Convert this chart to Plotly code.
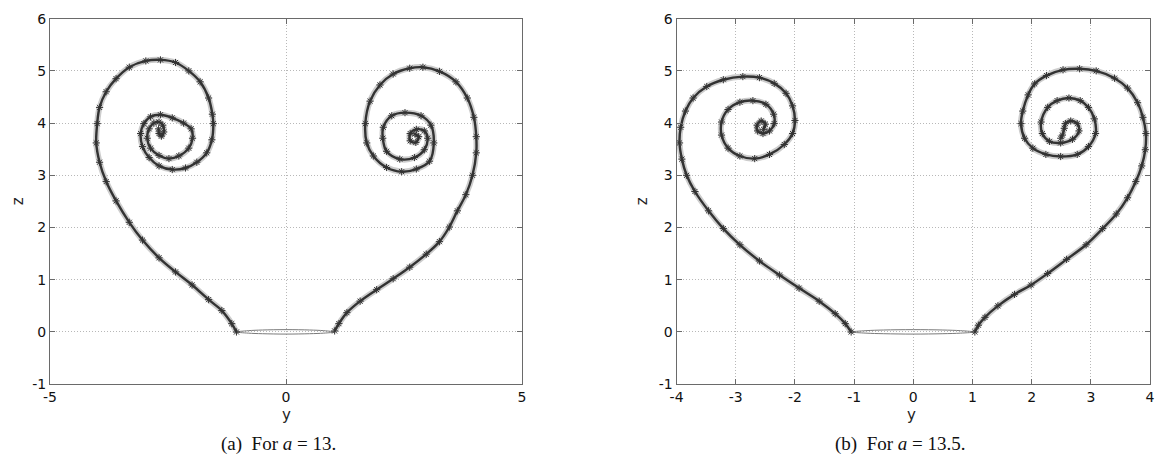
import plotly.graph_objects as go

# ---- a = 13 -------------------------------------------------------------
a13_left_y = [-1.05, -1.15, -1.36, -1.64, -1.99, -2.34, -2.69, -3.04, -3.32, -3.60,
              -3.81, -3.95, -4.02, -4.00, -3.95, -3.81, -3.60, -3.32, -2.97, -2.66,
              -2.34, -2.06, -1.82, -1.64, -1.56, -1.54, -1.57, -1.68, -1.89, -2.13,
              -2.41, -2.69, -2.90, -3.04, -3.08, -3.01, -2.87, -2.66, -2.41, -2.17,
              -2.01, -1.98, -2.06, -2.27, -2.48, -2.69, -2.87, -2.94, -2.90, -2.80,
              -2.69, -2.61, -2.59, -2.64, -2.69, -2.70]
a13_left_z = [0.00, 0.16, 0.41, 0.62, 0.90, 1.15, 1.42, 1.76, 2.10, 2.51,
              2.88, 3.25, 3.62, 3.99, 4.30, 4.60, 4.85, 5.07, 5.19, 5.21,
              5.16, 5.00, 4.79, 4.48, 4.17, 3.99, 3.68, 3.43, 3.25, 3.14,
              3.11, 3.18, 3.34, 3.55, 3.80, 3.99, 4.12, 4.16, 4.10, 4.00,
              3.89, 3.71, 3.52, 3.37, 3.32, 3.38, 3.52, 3.71, 3.89, 4.00,
              4.02, 3.96, 3.83, 3.75, 3.80, 3.89]

a13_right_y = [1.03, 1.12, 1.29, 1.57, 1.92, 2.27, 2.62, 2.97, 3.25, 3.46,
               3.63, 3.81, 3.95, 4.03, 4.03, 3.98, 3.84, 3.60, 3.25, 2.90,
               2.62, 2.27, 1.99, 1.78, 1.68, 1.71, 1.85, 2.13, 2.45, 2.76,
               3.04, 3.13, 3.07, 2.86, 2.52, 2.24, 2.06, 2.05, 2.13, 2.41,
               2.72, 2.93, 3.00, 2.93, 2.76, 2.63, 2.63, 2.75, 2.81, 2.73]
a13_right_z = [0.02, 0.16, 0.37, 0.59, 0.81, 1.02, 1.24, 1.49, 1.73, 2.01,
               2.32, 2.63, 3.00, 3.43, 3.74, 4.11, 4.48, 4.79, 4.99, 5.07,
               5.05, 4.94, 4.73, 4.42, 3.99, 3.62, 3.37, 3.15, 3.07, 3.12,
               3.27, 3.62, 3.96, 4.14, 4.20, 4.14, 3.92, 3.71, 3.46, 3.31,
               3.34, 3.49, 3.71, 3.85, 3.88, 3.80, 3.66, 3.63, 3.74, 3.79]

a13_lens_y = [-1.05, -0.8, -0.5, 0.0, 0.5, 0.8, 1.03, 0.8, 0.5, 0.0, -0.5, -0.8, -1.05]
a13_lens_z = [0.00, 0.025, 0.038, 0.045, 0.038, 0.025, 0.00, -0.022, -0.033, -0.04, -0.033, -0.022, 0.00]

# ---- a = 13.5 -----------------------------------------------------------
a135_left_y = [-1.05, -1.15, -1.32, -1.59, -1.93, -2.26, -2.60, -2.93, -3.21, -3.46,
               -3.69, -3.83, -3.91, -3.95, -3.93, -3.85, -3.72, -3.49, -3.21, -2.88,
               -2.60, -2.35, -2.15, -2.04, -2.00, -2.04, -2.18, -2.43, -2.68, -2.93,
               -3.13, -3.24, -3.24, -3.13, -2.93, -2.71, -2.49, -2.36, -2.35, -2.43,
               -2.54, -2.63, -2.64, -2.57, -2.50, -2.53]
a135_left_z = [0.00, 0.16, 0.35, 0.59, 0.84, 1.09, 1.36, 1.67, 1.98, 2.32,
               2.69, 3.00, 3.31, 3.62, 3.92, 4.23, 4.48, 4.70, 4.83, 4.89,
               4.87, 4.76, 4.57, 4.33, 4.05, 3.80, 3.59, 3.40, 3.32, 3.37,
               3.52, 3.77, 4.02, 4.26, 4.40, 4.43, 4.36, 4.17, 3.99, 3.85,
               3.80, 3.85, 3.96, 4.04, 3.98, 3.88]

a135_right_y = [1.04, 1.10, 1.21, 1.43, 1.71, 1.99, 2.27, 2.59, 2.92, 3.20,
                3.43, 3.62, 3.76, 3.86, 3.92, 3.93, 3.88, 3.79, 3.62, 3.40,
                3.09, 2.81, 2.53, 2.25, 2.05, 1.94, 1.85, 1.82, 1.88, 2.02,
                2.24, 2.49, 2.77, 2.96, 3.08, 3.06, 2.96, 2.82, 2.63, 2.43,
                2.27, 2.16, 2.18, 2.30, 2.49, 2.69, 2.80, 2.77, 2.66, 2.57,
                2.55, 2.52, 2.49]
a135_right_z = [0.00, 0.13, 0.28, 0.50, 0.72, 0.90, 1.12, 1.39, 1.67, 1.98,
                2.26, 2.57, 2.88, 3.18, 3.49, 3.80, 4.11, 4.39, 4.67, 4.86,
                5.00, 5.04, 5.02, 4.91, 4.75, 4.54, 4.23, 3.99, 3.71, 3.52,
                3.40, 3.36, 3.40, 3.55, 3.80, 4.08, 4.30, 4.43, 4.48, 4.43,
                4.30, 4.02, 3.80, 3.65, 3.62, 3.69, 3.85, 3.99, 4.04, 3.99,
                3.90, 3.77, 3.71]

a135_lens_y = [-1.05, -0.8, -0.5, 0.0, 0.5, 0.8, 1.04, 0.8, 0.5, 0.0, -0.5, -0.8, -1.05]
a135_lens_z = [0.00, 0.025, 0.038, 0.045, 0.038, 0.025, 0.00, -0.022, -0.033, -0.04, -0.033, -0.022, 0.00]

x_ticks_a = [-5, 0, 5]
x_ticks_b = [-4, -3, -2, -1, 0, 1, 2, 3, 4]
z_ticks = [-1, 0, 1, 2, 3, 4, 5, 6]


def plain_labels(vals):
    # ASCII hyphen for negatives
    return [str(v) for v in vals]


W, H = 1157, 476
fig = go.Figure()


def starred_branch(ys, zs, xa, ya):
    # soft grey halo, dark core line, then '*' markers
    fig.add_trace(go.Scatter(x=ys, y=zs, xaxis=xa, yaxis=ya, mode="lines",
                             line=dict(color="#cdcdcd", width=6, shape="spline"),
                             hoverinfo="skip", showlegend=False))
    fig.add_trace(go.Scatter(x=ys, y=zs, xaxis=xa, yaxis=ya, mode="lines+markers",
                             line=dict(color="#333333", width=2.4, shape="spline"),
                             marker=dict(symbol="asterisk-open", size=6,
                                         line=dict(color="#1a1a1a", width=1)),
                             showlegend=False))


def lens(ys, zs, xa, ya):
    fig.add_trace(go.Scatter(x=ys, y=zs, xaxis=xa, yaxis=ya, mode="lines",
                             line=dict(color="#7a7a7a", width=1, shape="spline"),
                             showlegend=False))


for xa, ya, L, R, C in [
    ("x", "y", (a13_left_y, a13_left_z), (a13_right_y, a13_right_z), (a13_lens_y, a13_lens_z)),
    ("x2", "y2", (a135_left_y, a135_left_z), (a135_right_y, a135_right_z), (a135_lens_y, a135_lens_z)),
]:
    lens(*C, xa, ya)
    starred_branch(*L, xa, ya)
    starred_branch(*R, xa, ya)

tick_font = dict(family="DejaVu Sans", size=14, color="#111111")
common = dict(showline=True, linecolor="#6a6a6a", linewidth=1, mirror="ticks",
              ticks="inside", ticklen=5, tickcolor="#6a6a6a", showgrid=True,
              gridcolor="#b8b8b8", griddash="1px,2px", gridwidth=1, zeroline=False,
              tickfont=tick_font)

fig.update_layout(
    width=W, height=H, margin=dict(l=0, r=0, t=0, b=0),
    paper_bgcolor="white", plot_bgcolor="white", showlegend=False,
    xaxis=dict(domain=[43.4 / W, 520 / W], range=[-5, 5], tickvals=x_ticks_a,
               ticktext=plain_labels(x_ticks_a), anchor="y", **common),
    yaxis=dict(domain=[1 - 389.3 / H, 1 - 11 / H], range=[-1, 6], tickvals=z_ticks,
               ticktext=plain_labels(z_ticks), anchor="x", **common),
    xaxis2=dict(domain=[676 / W, 1154 / W], range=[-4, 4], tickvals=x_ticks_b,
                ticktext=plain_labels(x_ticks_b), anchor="y2", **common),
    yaxis2=dict(domain=[1 - 389.3 / H, 1 - 11 / H], range=[-1, 6], tickvals=z_ticks,
                ticktext=plain_labels(z_ticks), anchor="x2", **common),
)

label_font = dict(family="DejaVu Sans", size=15, color="#222222")
cap_font = dict(family="Liberation Serif", size=19, color="#111111")
annots = [
    dict(text="y", x=281.7 / W, y=1 - 421 / H, font=label_font),
    dict(text="y", x=913 / W, y=1 - 421 / H, font=label_font),
    dict(text="z", x=11 / W, y=1 - 200 / H, font=label_font, textangle=-90),
    dict(text="z", x=641 / W, y=1 - 200 / H, font=label_font, textangle=-90),
    dict(text="(a)  For <i>a</i> = 13.", x=274 / W, y=1 - 451 / H, font=cap_font),
    dict(text="(b)  For <i>a</i> = 13.5.", x=902 / W, y=1 - 451 / H, font=cap_font),
]
for a in annots:
    fig.add_annotation(xref="paper", yref="paper", showarrow=False,
                       xanchor="center", yanchor="middle", **a)

fig.write_html("out.html")
